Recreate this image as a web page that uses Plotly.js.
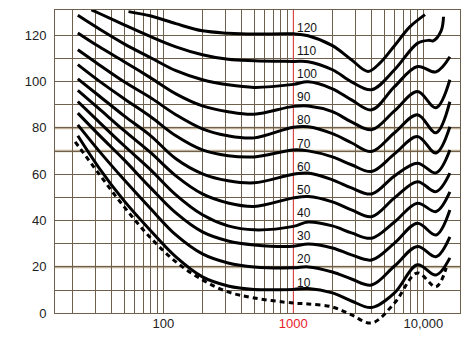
<!DOCTYPE html>
<html><head><meta charset="utf-8">
<script src="https://cdn.plot.ly/plotly-3.0.1.min.js"></script>
<style>html,body{margin:0;padding:0;background:#fff}#chart{width:472px;height:352px}</style>
</head><body><div id="chart"></div>
<script>
// Frequencies (Hz) shared by the 10–100 phon contours
const freqs = [22, 32, 50, 80, 125, 200, 315, 500, 1000, 1300, 2000, 2800, 4000, 6000, 9000, 12500, 16000];
const freqsThreshold = [21, 32, 50, 80, 125, 200, 315, 500, 1000, 1300, 2000, 2800, 4000, 6000, 9000, 12500, 15000];
const freqs110 = [28, 32, 50, 80, 125, 200, 315, 500, 1000, 1300, 2000, 2800, 4000, 6000, 9000, 11000, 11900, 13700, 14300];
const freqs120 = [54, 79, 125, 200, 315, 500, 1000, 1300, 2000, 2800, 3750, 4650, 6000, 7900, 10300];

// Sound pressure level (dB) along each contour
const threshold = [74.0, 60.2, 45.9, 32.5, 22.2, 14.4, 9.2, 6.6, 4.4, 4.0, 2.7, -0.7, -4.2, 4.4, 17.4, 11.4, 19.6];
const phon10  = [76.6, 62.8, 48.5, 35.6, 24.3, 15.7, 11.8, 10.3, 10.3, 10.7, 8.8, 5.3, 2.5, 8.8, 20.9, 16.5, 23.9];
const phon20  = [81.3, 70.1, 57.6, 45.1, 33.8, 25.6, 21.7, 20.0, 19.6, 20.0, 17.8, 14.8, 12.2, 20.4, 28.8, 24.4, 33.0];
const phon30  = [86.4, 77.0, 66.2, 54.1, 43.3, 35.1, 31.2, 29.5, 28.9, 29.9, 28.2, 25.2, 23.0, 30.3, 38.9, 33.8, 44.6];
const phon40  = [91.4, 82.6, 72.3, 61.9, 51.1, 42.5, 37.7, 36.0, 37.5, 39.4, 37.7, 34.7, 32.4, 39.4, 47.5, 43.9, 52.4];
const phon50  = [96.2, 88.3, 78.8, 69.3, 59.3, 51.5, 47.6, 46.1, 49.8, 50.4, 48.1, 44.6, 41.7, 49.8, 56.8, 52.5, 60.5];
const phon60  = [101.2, 93.9, 85.2, 76.6, 66.7, 60.2, 57.2, 56.3, 60.0, 60.5, 57.6, 54.1, 51.5, 59.3, 64.8, 60.6, 70.5];
const phon70  = [107.3, 100.3, 92.6, 84.8, 76.6, 70.5, 68.0, 67.5, 70.5, 70.1, 67.5, 64.1, 61.2, 68.8, 76.3, 69.2, 80.5];
const phon80  = [113.7, 107.3, 99.9, 93.0, 85.7, 79.6, 76.6, 75.7, 80.3, 80.5, 77.5, 73.6, 69.8, 77.9, 85.7, 77.9, 91.3];
const phon90  = [121.0, 115.1, 108.6, 101.6, 94.7, 89.5, 87.0, 85.9, 89.3, 89.5, 87.0, 82.6, 79.2, 87.4, 95.7, 88.7, 100.8];
const phon100 = [128.6, 122.8, 116.3, 110.3, 104.7, 100.8, 98.6, 97.5, 98.8, 99.9, 96.9, 92.1, 87.8, 97.8, 106.5, 104.2, 110.7];
const phon110 = [131.0, 129.5, 124.5, 119.4, 115.0, 111.6, 109.6, 109.0, 108.7, 108.6, 105.1, 99.9, 96.5, 105.1, 116.5, 117.8, 117.6, 121.9, 128.0];
const phon120 = [130.2, 128.4, 125.0, 121.9, 120.9, 120.5, 120.6, 119.8, 115.5, 109.4, 104.4, 108.1, 115.5, 123.7, 128.9];

const contourLabels = [10, 20, 30, 40, 50, 60, 70, 80, 90, 100, 110, 120];
const labelFreq = 1000;

const xTickVals = [20,30,40,50,60,70,80,90,100,200,300,400,500,600,700,800,900,1000,2000,3000,4000,5000,6000,7000,8000,9000,10000];
const xLabelled = {100: '100', 1000: '<span style="color:#e8202a">1000</span>', 10000: '10,000'};
const xTickText = xTickVals.map(v => xLabelled[v] || '');
const yTickVals = [0,10,20,30,40,50,60,70,80,90,100,110,120];
const yTickText = yTickVals.map(v => v % 20 === 0 ? String(v) : '');
const tanLevels = [20, 70, 80];

const Y_MIN = -5.5, Y_MAX = 130.9;   // extended range lets the threshold dip below the 0 dB axis
const X_RANGE = [1.167, 4.282];
const GRID = '#6e604c';
const TAN = '#bfb096';

const contours = [
  [freqs, phon10], [freqs, phon20], [freqs, phon30], [freqs, phon40], [freqs, phon50],
  [freqs, phon60], [freqs, phon70], [freqs, phon80], [freqs, phon90], [freqs, phon100],
  [freqs110, phon110], [freqs120, phon120]
];

const traces = contours.map(([x, y]) => ({
  x: x, y: y, type: 'scatter', mode: 'lines',
  line: {color: '#000', width: 3, shape: 'spline', smoothing: 1},
  hoverinfo: 'skip'
}));
traces.push({
  x: freqsThreshold, y: threshold, type: 'scatter', mode: 'lines',
  xaxis: 'x2', yaxis: 'y2',
  line: {color: '#000', width: 3, dash: '5px,4px', shape: 'spline', smoothing: 1},
  hoverinfo: 'skip'
});

const shapes = tanLevels.map(v => ({
  type: 'line', xref: 'paper', x0: 0, x1: 1, yref: 'y', y0: v, y1: v,
  line: {color: TAN, width: 2.5}, layer: 'between'
}));
shapes.push({
  type: 'line', xref: 'x', x0: labelFreq, x1: labelFreq, yref: 'y', y0: 0, y1: Y_MAX,
  line: {color: '#ee4444', width: 1}, layer: 'between'
});

const annotations = contourLabels.map(v => ({
  xref: 'x', yref: 'y', x: Math.log10(labelFreq), y: v,
  text: String(v), showarrow: false, xanchor: 'left', yanchor: 'middle',
  xshift: 2, yshift: 7.5,
  font: {family: 'Liberation Sans, Arial, sans-serif', size: 12, color: '#111'}
}));

const mainBottom = (0 - Y_MIN) / (Y_MAX - Y_MIN);

const layout = {
  width: 472, height: 352,
  margin: {l: 55, r: 12, t: 10, b: 26},
  paper_bgcolor: '#fff', plot_bgcolor: 'rgba(0,0,0,0)',
  showlegend: false,
  font: {family: 'Liberation Sans, Arial, sans-serif', size: 13, color: '#222'},
  xaxis: {
    type: 'log', range: X_RANGE, domain: [0, 1], anchor: 'y',
    tickmode: 'array', tickvals: xTickVals, ticktext: xTickText,
    showgrid: true, gridcolor: GRID, gridwidth: 1,
    showline: true, linecolor: GRID, linewidth: 1, mirror: true,
    ticks: '', zeroline: false, ticklabelstandoff: -2
  },
  yaxis: {
    range: [0, Y_MAX], domain: [mainBottom, 1], anchor: 'x',
    tickmode: 'array', tickvals: yTickVals, ticktext: yTickText,
    showgrid: true, gridcolor: GRID, gridwidth: 1,
    showline: true, linecolor: GRID, linewidth: 1, mirror: true,
    ticks: '', zeroline: false, ticklabelstandoff: 5
  },
  xaxis2: {type: 'log', range: X_RANGE, domain: [0, 1], anchor: 'y2', visible: false, showgrid: false},
  yaxis2: {range: [Y_MIN, Y_MAX], domain: [0, 1], anchor: 'x2', visible: false, showgrid: false},
  shapes: shapes,
  annotations: annotations
};

Plotly.newPlot('chart', traces, layout, {displayModeBar: false, staticPlot: true});
</script>
</body></html>
